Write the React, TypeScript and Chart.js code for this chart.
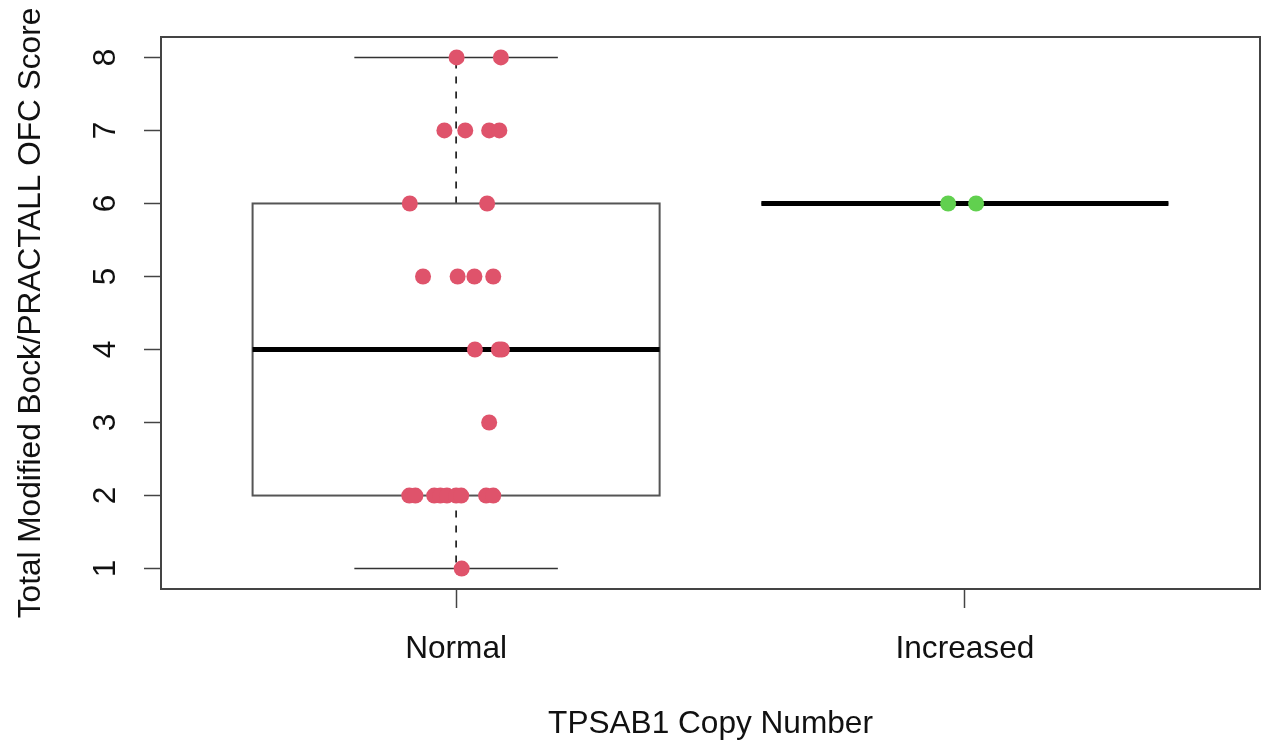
import React, { useEffect, useRef } from "react";
import { Chart, registerables } from "chart.js";

Chart.register(...registerables);

// ---- Data ----
const categories = ["Normal", "Increased"];
const categoryPositions = [1, 2];
const yTickValues = [1, 2, 3, 4, 5, 6, 7, 8];
const yTickLabels = ["1", "2", "3", "4", "5", "6", "7", "8"];

// individual observations (jittered horizontally, as in the reference)
const normalScores = [8, 8, 7, 7, 7, 7, 6, 6, 5, 5, 5, 5, 4, 4, 4, 3, 2, 2, 2, 2, 2, 2, 2, 2, 2, 1];
const normalJitterX = [
  1.001, 1.088,
  0.977, 1.018, 1.065, 1.085,
  0.909, 1.061,
  0.935, 1.003, 1.036, 1.073,
  1.037, 1.084, 1.09,
  1.065,
  0.908, 0.92, 0.957, 0.969, 0.982, 1.0, 1.01, 1.059, 1.073,
  1.011,
];
const increasedScores = [6, 6];
const increasedJitterX = [1.967, 2.022];

// box statistics per category
const whiskerLow = [1, 6];
const quartile1 = [2, 6];
const medians = [4, 6];
const quartile3 = [6, 6];
const whiskerHigh = [8, 6];

const xTitle = "TPSAB1 Copy Number";
const yTitle = "Total Modified Bock/PRACTALL OFC Score";

const FONT_FAMILY = '"Liberation Sans", Arial, Helvetica, sans-serif';
const TEXT_COLOR = "#111";

const boxPlugin = {
  id: "rBoxplot",
  beforeDatasetsDraw(chart: any) {
    const { ctx, scales } = chart;
    const x = scales.x;
    const y = scales.y;
    const line = (x1: number, y1: number, x2: number, y2: number) => {
      ctx.beginPath();
      ctx.moveTo(x1, y1);
      ctx.lineTo(x2, y2);
      ctx.stroke();
    };
    ctx.save();
    categoryPositions.forEach((pos, i) => {
      const xc = x.getPixelForValue(pos);
      const xl = x.getPixelForValue(pos - 0.4);
      const xr = x.getPixelForValue(pos + 0.4);
      const cl = x.getPixelForValue(pos - 0.2);
      const cr = x.getPixelForValue(pos + 0.2);
      const yLo = y.getPixelForValue(whiskerLow[i]);
      const yQ1 = y.getPixelForValue(quartile1[i]);
      const yMed = y.getPixelForValue(medians[i]);
      const yQ3 = y.getPixelForValue(quartile3[i]);
      const yHi = y.getPixelForValue(whiskerHigh[i]);
      // whiskers (dashed)
      ctx.strokeStyle = "#000";
      ctx.lineWidth = 1.5;
      ctx.setLineDash([7, 8]);
      if (yHi !== yQ3) line(xc, yQ3, xc, yHi);
      if (yLo !== yQ1) line(xc, yQ1, xc, yLo);
      ctx.setLineDash([]);
      // staples
      ctx.strokeStyle = "#333";
      ctx.lineWidth = 1.5;
      line(cl, yHi, cr, yHi);
      line(cl, yLo, cr, yLo);
      // box
      ctx.strokeStyle = "#555";
      ctx.lineWidth = 2;
      ctx.strokeRect(xl, yQ3, xr - xl, yQ1 - yQ3);
      // median
      ctx.strokeStyle = "#000";
      ctx.lineWidth = 5;
      ctx.lineCap = "butt";
      line(xl, yMed, xr, yMed);
    });
    ctx.restore();
  },
  afterDraw(chart: any) {
    const { ctx, chartArea } = chart;
    ctx.save();
    ctx.strokeStyle = "#444";
    ctx.lineWidth = 2;
    ctx.strokeRect(chartArea.left, chartArea.top, chartArea.right - chartArea.left, chartArea.bottom - chartArea.top);
    ctx.restore();
  },
};

const zeroPadding = (s: any) => {
  s.paddingTop = 0;
  s.paddingBottom = 0;
  s.paddingLeft = 0;
  s.paddingRight = 0;
};

export default function App() {
  const canvasRef = useRef<HTMLCanvasElement | null>(null);

  useEffect(() => {
    if (!canvasRef.current) return;
    const font = { family: FONT_FAMILY, size: 31.6 };
    const chart = new Chart(canvasRef.current, {
      type: "scatter",
      data: {
        datasets: [
          {
            label: categories[0],
            data: normalJitterX.map((xv, i) => ({ x: xv, y: normalScores[i] })),
            backgroundColor: "#DF536B",
            borderWidth: 0,
            pointRadius: 8,
            pointHoverRadius: 8,
          },
          {
            label: categories[1],
            data: increasedJitterX.map((xv, i) => ({ x: xv, y: increasedScores[i] })),
            backgroundColor: "#61D04F",
            borderWidth: 0,
            pointRadius: 8,
            pointHoverRadius: 8,
          },
        ],
      },
      options: {
        animation: false,
        responsive: false,
        layout: { autoPadding: false, padding: { top: 37, right: 3, left: 0, bottom: 0 } },
        plugins: {
          legend: { display: false },
          tooltip: { enabled: false },
        },
        scales: {
          x: {
            type: "linear",
            min: 0.42,
            max: 2.58,
            afterBuildTicks: (s: any) => {
              s.ticks = categoryPositions.map((v) => ({ value: v }));
            },
            afterFit: (s: any) => {
              s.height = 158;
              zeroPadding(s);
            },
            ticks: {
              callback: (_v: any, i: number) => categories[i],
              autoSkip: false,
              maxRotation: 0,
              minRotation: 0,
              padding: 22,
              font,
              color: TEXT_COLOR,
            },
            grid: {
              drawOnChartArea: false,
              drawTicks: true,
              tickLength: 19,
              tickColor: "#444",
              tickWidth: 1.5,
            },
            border: { display: false },
            title: {
              display: true,
              text: xTitle,
              font,
              color: TEXT_COLOR,
              padding: { top: 4, bottom: 4 },
            },
          },
          y: {
            type: "linear",
            min: 0.72,
            max: 8.28,
            afterBuildTicks: (s: any) => {
              s.ticks = yTickValues.map((v) => ({ value: v }));
            },
            afterFit: (s: any) => {
              s.width = 161;
              zeroPadding(s);
            },
            ticks: {
              callback: (_v: any, i: number) => yTickLabels[i],
              autoSkip: false,
              minRotation: 90,
              maxRotation: 90,
              crossAlign: "center",
              padding: 29,
              font,
              color: TEXT_COLOR,
            },
            grid: {
              drawOnChartArea: false,
              drawTicks: true,
              tickLength: 17,
              tickColor: "#444",
              tickWidth: 1.5,
            },
            border: { display: false },
            title: {
              display: true,
              text: yTitle,
              font,
              color: TEXT_COLOR,
              padding: { top: 12, bottom: 12 },
            },
          },
        },
      },
      plugins: [boxPlugin],
    } as any);
    return () => chart.destroy();
  }, []);

  return (
    <div style={{ position: "fixed", left: 0, top: 0, width: 1263, height: 747, background: "#fff" }}>
      <canvas ref={canvasRef} width={1263} height={747} style={{ display: "block" }} />
    </div>
  );
}
